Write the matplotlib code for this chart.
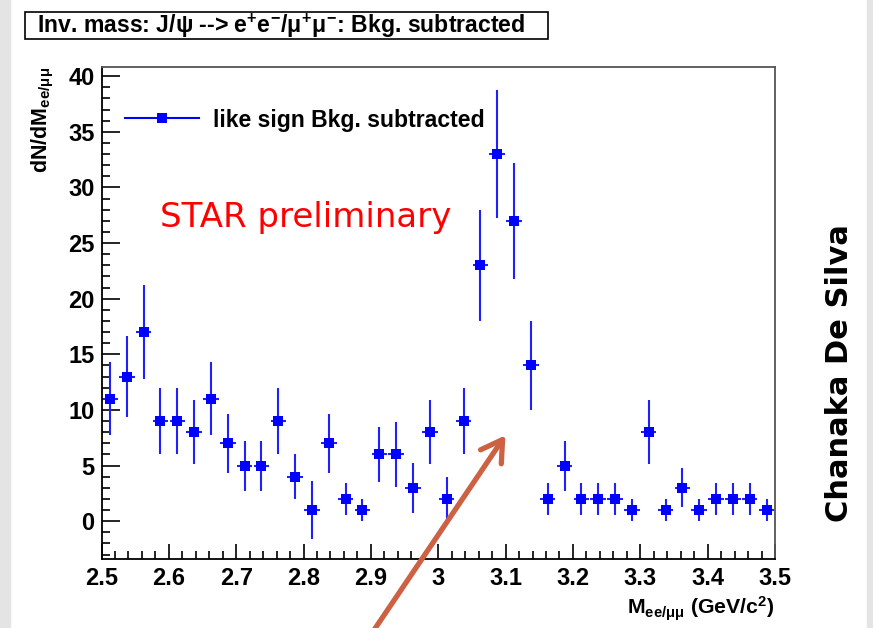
import matplotlib
matplotlib.use("Agg")
from matplotlib import pyplot as plt
from matplotlib.patches import Rectangle, FancyArrowPatch
from matplotlib.lines import Line2D
from matplotlib.ticker import MultipleLocator


#bin centres of the invariant mass histogram (GeV/c^2), 40 bins of 0.025
mass = [2.5125, 2.5375, 2.5625, 2.5875, 2.6125, 2.6375, 2.6625, 2.6875,
        2.7125, 2.7375, 2.7625, 2.7875, 2.8125, 2.8375, 2.8625, 2.8875,
        2.9125, 2.9375, 2.9625, 2.9875, 3.0125, 3.0375, 3.0625, 3.0875,
        3.1125, 3.1375, 3.1625, 3.1875, 3.2125, 3.2375, 3.2625, 3.2875,
        3.3125, 3.3375, 3.3625, 3.3875, 3.4125, 3.4375, 3.4625, 3.4875]

#like sign background subtracted counts
counts = [11, 13, 17, 9, 9, 8, 11, 7,
          5, 5, 9, 4, 1, 7, 2, 1,
          6, 6, 3, 8, 2, 9, 23, 33,
          27, 14, 2, 5, 2, 2, 2, 1,
          8, 1, 3, 1, 2, 2, 2, 1]

#statistical errors
errors = [3.3, 3.6, 4.2, 3.0, 3.0, 2.9, 3.3, 2.65,
          2.25, 2.25, 3.0, 2.0, 2.6, 2.65, 1.45, 1.0,
          2.5, 2.9, 2.25, 2.9, 1.95, 3.0, 5.0, 5.75,
          5.2, 4.0, 1.45, 2.25, 1.45, 1.45, 1.45, 1.0,
          2.9, 1.0, 1.75, 1.0, 1.45, 1.45, 1.45, 1.0]

binHalf = 0.0115


def main():
    plt.rcParams['font.family'] = ['Liberation Sans', 'DejaVu Sans']
    plt.rcParams['font.weight'] = 'bold'
    plt.rcParams['mathtext.fontset'] = 'custom'
    plt.rcParams['mathtext.rm'] = 'Liberation Sans:bold'
    plt.rcParams['mathtext.it'] = 'Liberation Sans:bold'
    plt.rcParams['mathtext.bf'] = 'Liberation Sans:bold'
    plt.rcParams['mathtext.sf'] = 'Liberation Sans:bold'

    W, H = 873, 628
    fig = plt.figure(figsize=(W / 100, H / 100), dpi=100)
    fig.patch.set_facecolor('white')

    #grey slide edges
    fig.add_artist(Rectangle((0, 0), 10 / W, 1, transform=fig.transFigure,
                             color='#e4e4e4', zorder=0))
    fig.add_artist(Rectangle((867 / W, 0), 6 / W, 1, transform=fig.transFigure,
                             color='#e4e4e4', zorder=0))

    #axes placed in pixels
    left, right, top, bottom = 101.5, 775, 67, 559
    ax = fig.add_axes([left / W, 1 - bottom / H, (right - left) / W, (bottom - top) / H])

    ax.errorbar(mass, counts, yerr=errors, xerr=binHalf, fmt='s', color='blue',
                ecolor='#2020ff', elinewidth=1.5, markersize=7.5, capsize=0,
                markeredgewidth=0)

    ax.set_xlim(2.5, 3.5)
    ax.set_ylim(-3.4, 40.82)

    #root style ticks
    ax.xaxis.set_major_locator(MultipleLocator(0.1))
    ax.xaxis.set_minor_locator(MultipleLocator(0.02))
    ax.yaxis.set_major_locator(MultipleLocator(5))
    ax.yaxis.set_minor_locator(MultipleLocator(1))
    ax.set_xticks([2.5, 2.6, 2.7, 2.8, 2.9, 3.0, 3.1, 3.2, 3.3, 3.4, 3.5])
    ax.set_xticklabels(['2.5', '2.6', '2.7', '2.8', '2.9', '3', '3.1', '3.2', '3.3', '3.4', '3.5'])
    ax.set_yticks([0, 5, 10, 15, 20, 25, 30, 35, 40])
    ax.tick_params(which='both', direction='in', top=False, right=False, width=1.2)
    ax.tick_params(which='major', length=13, labelsize=17, pad=5)
    ax.tick_params(axis='x', which='major', length=11, pad=6)
    ax.tick_params(which='minor', length=6)
    for lab in ax.get_xticklabels() + ax.get_yticklabels():
        lab.set_fontweight('bold')

    ax.spines['left'].set_color('black')
    ax.spines['bottom'].set_color('black')
    ax.spines['top'].set_color('#555555')
    ax.spines['right'].set_color('#555555')
    for s in ax.spines.values():
        s.set_linewidth(1.3)

    ax.set_xlabel(r'M$_{ee/\mu\mu}$ (GeV/c$^{2}$)', fontsize=15.3, fontweight='bold', loc='right')
    ax.xaxis.set_label_coords(1.0, -0.072)
    ax.set_ylabel(r'dN/dM$_{ee/\mu\mu}$', fontsize=15.5, fontweight='bold', loc='top')
    ax.yaxis.set_label_coords(-0.068, 1.0)

    #legend with a plain line + square handle
    handle = Line2D([], [], color='blue', marker='s', markersize=7.5, linewidth=1.5,
                    markeredgewidth=0)
    ax.legend([handle], ['like sign Bkg. subtracted'], loc='center left',
              bbox_to_anchor=((125 - left) / (right - left), (bottom - 120) / (bottom - top)),
              frameon=False, handlelength=3.2, handletextpad=0.6,
              borderpad=0, borderaxespad=0, prop={'weight': 'bold', 'size': 16.6})

    ax.text((160 - left) / (right - left), (bottom - 217) / (bottom - top), 'STAR preliminary',
            transform=ax.transAxes, color='red', fontsize=24.5, family='DejaVu Sans',
            fontweight='normal', va='center', ha='left')

    #title box
    fig.add_artist(Rectangle((25 / W, 1 - 39 / H), 523 / W, 27 / H, transform=fig.transFigure,
                             facecolor='white', edgecolor='black', linewidth=1.2))
    fig.text(281 / W, 1 - 25.5 / H,
             r'Inv. mass: J/$\psi$ --> e$^{+}$e$^{-}$/$\mu^{+}\mu^{-}$: Bkg. subtracted',
             fontsize=16.6, fontweight='bold', ha='center', va='center')

    #author name on the right
    fig.text(840 / W, 1 - 373 / H, 'Chanaka De Silva', rotation=90, fontsize=22,
             family='DejaVu Sans', fontweight='bold', ha='center', va='center')

    #arrow pointing at the peak
    arrow = FancyArrowPatch((372 / W, -5 / H), (507 / W, 1 - 433 / H), transform=fig.transFigure,
                            arrowstyle='->,head_length=0.75,head_width=0.45', mutation_scale=20,
                            color='#cc6144', linewidth=3.8, zorder=10)
    fig.add_artist(arrow)

    fig.savefig('out.png', dpi=100)


if __name__ == "__main__":
    main()
